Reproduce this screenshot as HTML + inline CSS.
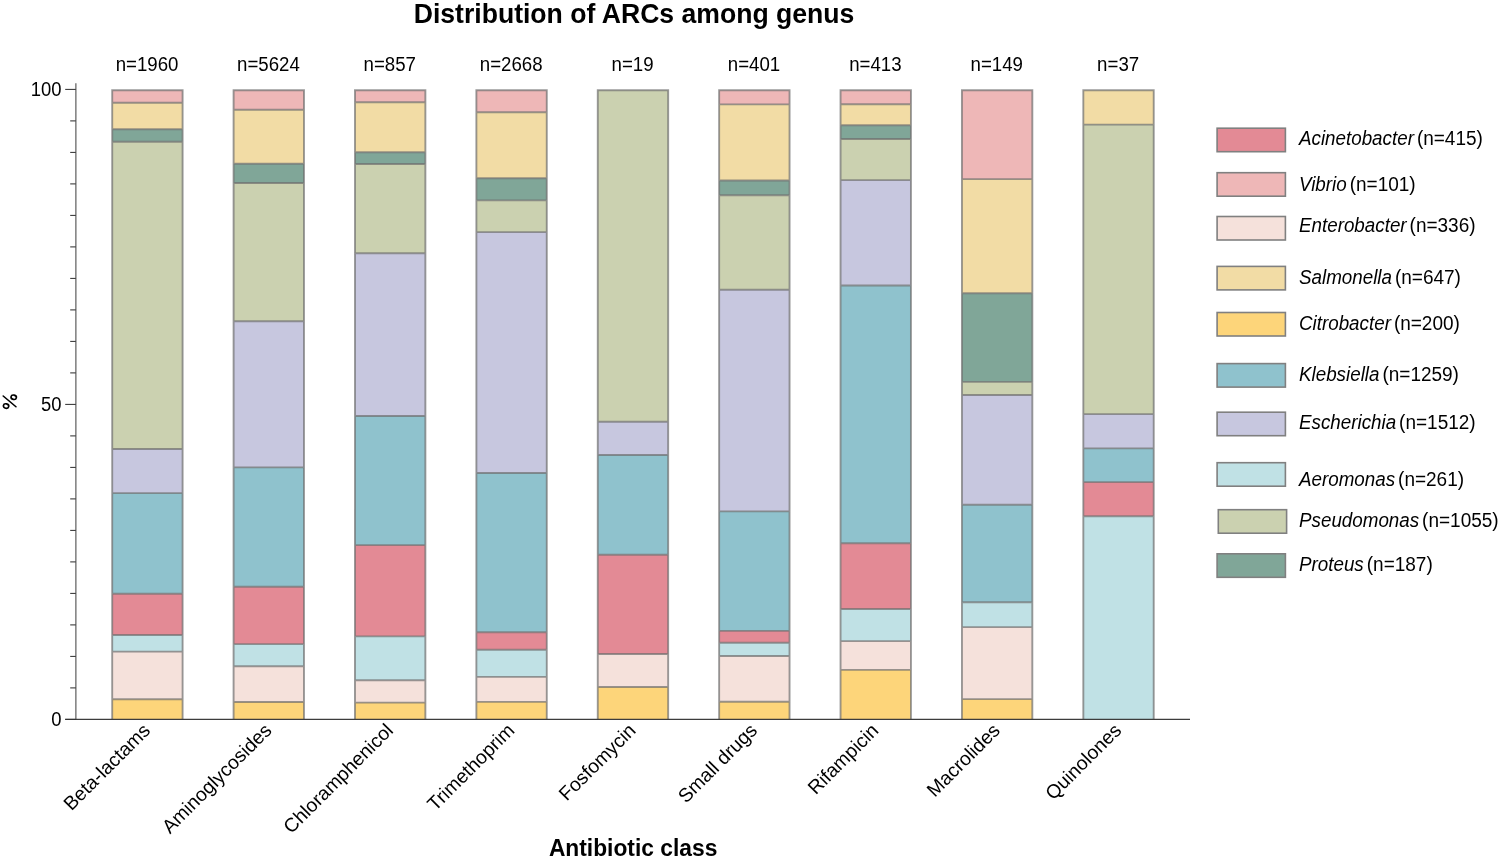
<!DOCTYPE html>
<html><head><meta charset="utf-8"><style>
html,body{margin:0;padding:0;background:#fff;}
svg{display:block;will-change:transform;}
text{font-family:"Liberation Sans",sans-serif;fill:#000;}
</style></head><body>
<svg width="1500" height="865" viewBox="0 0 1500 865">

<text transform="translate(634,23.0) scale(1,1.07)" font-size="26.6" font-weight="bold" text-anchor="middle">Distribution of ARCs among genus</text>
<defs><clipPath id="cb"><rect x="0" y="0" width="1500" height="719.4"/></clipPath></defs>
<g clip-path="url(#cb)">
<rect x="112.20" y="90.20" width="70.4" height="12.60" fill="#EEB7B7"/>
<rect x="112.20" y="102.80" width="70.4" height="26.40" fill="#F2DCA5"/>
<rect x="112.20" y="129.20" width="70.4" height="12.60" fill="#80A698"/>
<rect x="112.20" y="141.80" width="70.4" height="307.20" fill="#CBD1B0"/>
<rect x="112.20" y="449.00" width="70.4" height="44.10" fill="#C7C7DF"/>
<rect x="112.20" y="493.10" width="70.4" height="100.60" fill="#8FC2CD"/>
<rect x="112.20" y="593.70" width="70.4" height="41.30" fill="#E38A95"/>
<rect x="112.20" y="635.00" width="70.4" height="16.60" fill="#C0E1E5"/>
<rect x="112.20" y="651.60" width="70.4" height="47.60" fill="#F5E1DB"/>
<rect x="112.20" y="699.20" width="70.4" height="20.20" fill="#FDD57A"/>
<path d="M112.20 721.4 V90.20 H182.60 V721.4 M112.20 102.80 H182.60 M112.20 129.20 H182.60 M112.20 141.80 H182.60 M112.20 449.00 H182.60 M112.20 493.10 H182.60 M112.20 593.70 H182.60 M112.20 635.00 H182.60 M112.20 651.60 H182.60 M112.20 699.20 H182.60" fill="none" stroke="rgba(110,110,110,0.7)" stroke-width="1.9"/>
<rect x="233.59" y="90.20" width="70.4" height="19.60" fill="#EEB7B7"/>
<rect x="233.59" y="109.80" width="70.4" height="53.90" fill="#F2DCA5"/>
<rect x="233.59" y="163.70" width="70.4" height="19.30" fill="#80A698"/>
<rect x="233.59" y="183.00" width="70.4" height="138.20" fill="#CBD1B0"/>
<rect x="233.59" y="321.20" width="70.4" height="146.20" fill="#C7C7DF"/>
<rect x="233.59" y="467.40" width="70.4" height="119.35" fill="#8FC2CD"/>
<rect x="233.59" y="586.75" width="70.4" height="57.35" fill="#E38A95"/>
<rect x="233.59" y="644.10" width="70.4" height="22.10" fill="#C0E1E5"/>
<rect x="233.59" y="666.20" width="70.4" height="35.75" fill="#F5E1DB"/>
<rect x="233.59" y="701.95" width="70.4" height="17.45" fill="#FDD57A"/>
<path d="M233.59 721.4 V90.20 H303.99 V721.4 M233.59 109.80 H303.99 M233.59 163.70 H303.99 M233.59 183.00 H303.99 M233.59 321.20 H303.99 M233.59 467.40 H303.99 M233.59 586.75 H303.99 M233.59 644.10 H303.99 M233.59 666.20 H303.99 M233.59 701.95 H303.99" fill="none" stroke="rgba(110,110,110,0.7)" stroke-width="1.9"/>
<rect x="354.98" y="90.20" width="70.4" height="12.00" fill="#EEB7B7"/>
<rect x="354.98" y="102.20" width="70.4" height="50.10" fill="#F2DCA5"/>
<rect x="354.98" y="152.30" width="70.4" height="11.70" fill="#80A698"/>
<rect x="354.98" y="164.00" width="70.4" height="89.30" fill="#CBD1B0"/>
<rect x="354.98" y="253.30" width="70.4" height="162.70" fill="#C7C7DF"/>
<rect x="354.98" y="416.00" width="70.4" height="129.10" fill="#8FC2CD"/>
<rect x="354.98" y="545.10" width="70.4" height="91.25" fill="#E38A95"/>
<rect x="354.98" y="636.35" width="70.4" height="43.85" fill="#C0E1E5"/>
<rect x="354.98" y="680.20" width="70.4" height="22.40" fill="#F5E1DB"/>
<rect x="354.98" y="702.60" width="70.4" height="16.80" fill="#FDD57A"/>
<path d="M354.98 721.4 V90.20 H425.38 V721.4 M354.98 102.20 H425.38 M354.98 152.30 H425.38 M354.98 164.00 H425.38 M354.98 253.30 H425.38 M354.98 416.00 H425.38 M354.98 545.10 H425.38 M354.98 636.35 H425.38 M354.98 680.20 H425.38 M354.98 702.60 H425.38" fill="none" stroke="rgba(110,110,110,0.7)" stroke-width="1.9"/>
<rect x="476.37" y="90.20" width="70.4" height="22.00" fill="#EEB7B7"/>
<rect x="476.37" y="112.20" width="70.4" height="66.00" fill="#F2DCA5"/>
<rect x="476.37" y="178.20" width="70.4" height="22.20" fill="#80A698"/>
<rect x="476.37" y="200.40" width="70.4" height="31.70" fill="#CBD1B0"/>
<rect x="476.37" y="232.10" width="70.4" height="240.90" fill="#C7C7DF"/>
<rect x="476.37" y="473.00" width="70.4" height="159.25" fill="#8FC2CD"/>
<rect x="476.37" y="632.25" width="70.4" height="17.55" fill="#E38A95"/>
<rect x="476.37" y="649.80" width="70.4" height="27.10" fill="#C0E1E5"/>
<rect x="476.37" y="676.90" width="70.4" height="25.00" fill="#F5E1DB"/>
<rect x="476.37" y="701.90" width="70.4" height="17.50" fill="#FDD57A"/>
<path d="M476.37 721.4 V90.20 H546.77 V721.4 M476.37 112.20 H546.77 M476.37 178.20 H546.77 M476.37 200.40 H546.77 M476.37 232.10 H546.77 M476.37 473.00 H546.77 M476.37 632.25 H546.77 M476.37 649.80 H546.77 M476.37 676.90 H546.77 M476.37 701.90 H546.77" fill="none" stroke="rgba(110,110,110,0.7)" stroke-width="1.9"/>
<rect x="597.76" y="90.20" width="70.4" height="331.60" fill="#CBD1B0"/>
<rect x="597.76" y="421.80" width="70.4" height="33.20" fill="#C7C7DF"/>
<rect x="597.76" y="455.00" width="70.4" height="99.70" fill="#8FC2CD"/>
<rect x="597.76" y="554.70" width="70.4" height="99.30" fill="#E38A95"/>
<rect x="597.76" y="654.00" width="70.4" height="33.00" fill="#F5E1DB"/>
<rect x="597.76" y="687.00" width="70.4" height="32.40" fill="#FDD57A"/>
<path d="M597.76 721.4 V90.20 H668.16 V721.4 M597.76 421.80 H668.16 M597.76 455.00 H668.16 M597.76 554.70 H668.16 M597.76 654.00 H668.16 M597.76 687.00 H668.16" fill="none" stroke="rgba(110,110,110,0.7)" stroke-width="1.9"/>
<rect x="719.15" y="90.20" width="70.4" height="14.20" fill="#EEB7B7"/>
<rect x="719.15" y="104.40" width="70.4" height="76.10" fill="#F2DCA5"/>
<rect x="719.15" y="180.50" width="70.4" height="14.80" fill="#80A698"/>
<rect x="719.15" y="195.30" width="70.4" height="94.50" fill="#CBD1B0"/>
<rect x="719.15" y="289.80" width="70.4" height="221.60" fill="#C7C7DF"/>
<rect x="719.15" y="511.40" width="70.4" height="119.50" fill="#8FC2CD"/>
<rect x="719.15" y="630.90" width="70.4" height="11.90" fill="#E38A95"/>
<rect x="719.15" y="642.80" width="70.4" height="13.20" fill="#C0E1E5"/>
<rect x="719.15" y="656.00" width="70.4" height="45.75" fill="#F5E1DB"/>
<rect x="719.15" y="701.75" width="70.4" height="17.65" fill="#FDD57A"/>
<path d="M719.15 721.4 V90.20 H789.55 V721.4 M719.15 104.40 H789.55 M719.15 180.50 H789.55 M719.15 195.30 H789.55 M719.15 289.80 H789.55 M719.15 511.40 H789.55 M719.15 630.90 H789.55 M719.15 642.80 H789.55 M719.15 656.00 H789.55 M719.15 701.75 H789.55" fill="none" stroke="rgba(110,110,110,0.7)" stroke-width="1.9"/>
<rect x="840.54" y="90.20" width="70.4" height="14.00" fill="#EEB7B7"/>
<rect x="840.54" y="104.20" width="70.4" height="21.10" fill="#F2DCA5"/>
<rect x="840.54" y="125.30" width="70.4" height="13.70" fill="#80A698"/>
<rect x="840.54" y="139.00" width="70.4" height="41.10" fill="#CBD1B0"/>
<rect x="840.54" y="180.10" width="70.4" height="105.40" fill="#C7C7DF"/>
<rect x="840.54" y="285.50" width="70.4" height="257.80" fill="#8FC2CD"/>
<rect x="840.54" y="543.30" width="70.4" height="65.70" fill="#E38A95"/>
<rect x="840.54" y="609.00" width="70.4" height="32.10" fill="#C0E1E5"/>
<rect x="840.54" y="641.10" width="70.4" height="28.80" fill="#F5E1DB"/>
<rect x="840.54" y="669.90" width="70.4" height="49.50" fill="#FDD57A"/>
<path d="M840.54 721.4 V90.20 H910.94 V721.4 M840.54 104.20 H910.94 M840.54 125.30 H910.94 M840.54 139.00 H910.94 M840.54 180.10 H910.94 M840.54 285.50 H910.94 M840.54 543.30 H910.94 M840.54 609.00 H910.94 M840.54 641.10 H910.94 M840.54 669.90 H910.94" fill="none" stroke="rgba(110,110,110,0.7)" stroke-width="1.9"/>
<rect x="961.93" y="90.20" width="70.4" height="88.90" fill="#EEB7B7"/>
<rect x="961.93" y="179.10" width="70.4" height="114.20" fill="#F2DCA5"/>
<rect x="961.93" y="293.30" width="70.4" height="88.60" fill="#80A698"/>
<rect x="961.93" y="381.90" width="70.4" height="13.10" fill="#CBD1B0"/>
<rect x="961.93" y="395.00" width="70.4" height="109.80" fill="#C7C7DF"/>
<rect x="961.93" y="504.80" width="70.4" height="97.40" fill="#8FC2CD"/>
<rect x="961.93" y="602.20" width="70.4" height="24.90" fill="#C0E1E5"/>
<rect x="961.93" y="627.10" width="70.4" height="72.00" fill="#F5E1DB"/>
<rect x="961.93" y="699.10" width="70.4" height="20.30" fill="#FDD57A"/>
<path d="M961.93 721.4 V90.20 H1032.33 V721.4 M961.93 179.10 H1032.33 M961.93 293.30 H1032.33 M961.93 381.90 H1032.33 M961.93 395.00 H1032.33 M961.93 504.80 H1032.33 M961.93 602.20 H1032.33 M961.93 627.10 H1032.33 M961.93 699.10 H1032.33" fill="none" stroke="rgba(110,110,110,0.7)" stroke-width="1.9"/>
<rect x="1083.32" y="90.20" width="70.4" height="34.40" fill="#F2DCA5"/>
<rect x="1083.32" y="124.60" width="70.4" height="289.50" fill="#CBD1B0"/>
<rect x="1083.32" y="414.10" width="70.4" height="34.30" fill="#C7C7DF"/>
<rect x="1083.32" y="448.40" width="70.4" height="33.70" fill="#8FC2CD"/>
<rect x="1083.32" y="482.10" width="70.4" height="34.10" fill="#E38A95"/>
<rect x="1083.32" y="516.20" width="70.4" height="203.20" fill="#C0E1E5"/>
<path d="M1083.32 721.4 V90.20 H1153.72 V721.4 M1083.32 124.60 H1153.72 M1083.32 414.10 H1153.72 M1083.32 448.40 H1153.72 M1083.32 482.10 H1153.72 M1083.32 516.20 H1153.72" fill="none" stroke="rgba(110,110,110,0.7)" stroke-width="1.9"/>
</g>
<text transform="translate(147.00,70.9) scale(0.972,1.09)" font-size="19.2" text-anchor="middle">n=1960</text>
<text transform="translate(151.40,731.6) rotate(-45)" font-size="19.4" text-anchor="end">Beta-lactams</text>
<text transform="translate(268.39,70.9) scale(0.972,1.09)" font-size="19.2" text-anchor="middle">n=5624</text>
<text transform="translate(272.79,731.6) rotate(-45)" font-size="19.4" text-anchor="end">Aminoglycosides</text>
<text transform="translate(389.78,70.9) scale(0.972,1.09)" font-size="19.2" text-anchor="middle">n=857</text>
<text transform="translate(394.18,731.6) rotate(-45)" font-size="19.4" text-anchor="end">Chloramphenicol</text>
<text transform="translate(511.17,70.9) scale(0.972,1.09)" font-size="19.2" text-anchor="middle">n=2668</text>
<text transform="translate(515.57,731.6) rotate(-45)" font-size="19.4" text-anchor="end">Trimethoprim</text>
<text transform="translate(632.56,70.9) scale(0.972,1.09)" font-size="19.2" text-anchor="middle">n=19</text>
<text transform="translate(636.96,731.6) rotate(-45)" font-size="19.4" text-anchor="end">Fosfomycin</text>
<text transform="translate(753.95,70.9) scale(0.972,1.09)" font-size="19.2" text-anchor="middle">n=401</text>
<text transform="translate(758.35,731.6) rotate(-45)" font-size="19.4" text-anchor="end">Small drugs</text>
<text transform="translate(875.34,70.9) scale(0.972,1.09)" font-size="19.2" text-anchor="middle">n=413</text>
<text transform="translate(879.74,731.6) rotate(-45)" font-size="19.4" text-anchor="end">Rifampicin</text>
<text transform="translate(996.73,70.9) scale(0.972,1.09)" font-size="19.2" text-anchor="middle">n=149</text>
<text transform="translate(1001.13,731.6) rotate(-45)" font-size="19.4" text-anchor="end">Macrolides</text>
<text transform="translate(1118.12,70.9) scale(0.972,1.09)" font-size="19.2" text-anchor="middle">n=37</text>
<text transform="translate(1122.52,731.6) rotate(-45)" font-size="19.4" text-anchor="end">Quinolones</text>
<line x1="75.85" y1="83.2" x2="75.85" y2="719.4" stroke="#7d7d7d" stroke-width="1.5"/>
<line x1="65.2" y1="719.4499999999999" x2="1190" y2="719.4499999999999" stroke="#3c3c3c" stroke-width="1.2"/>
<line x1="65.2" y1="719.40" x2="75.8" y2="719.40" stroke="#333" stroke-width="1.05"/>
<text transform="translate(61.4,726.00) scale(0.97,1.09)" font-size="19" text-anchor="end">0</text>
<line x1="70.2" y1="687.90" x2="75.8" y2="687.90" stroke="#333" stroke-width="1.05"/>
<line x1="70.2" y1="656.40" x2="75.8" y2="656.40" stroke="#333" stroke-width="1.05"/>
<line x1="70.2" y1="624.90" x2="75.8" y2="624.90" stroke="#333" stroke-width="1.05"/>
<line x1="70.2" y1="593.40" x2="75.8" y2="593.40" stroke="#333" stroke-width="1.05"/>
<line x1="70.2" y1="561.90" x2="75.8" y2="561.90" stroke="#333" stroke-width="1.05"/>
<line x1="70.2" y1="530.40" x2="75.8" y2="530.40" stroke="#333" stroke-width="1.05"/>
<line x1="70.2" y1="498.90" x2="75.8" y2="498.90" stroke="#333" stroke-width="1.05"/>
<line x1="70.2" y1="467.40" x2="75.8" y2="467.40" stroke="#333" stroke-width="1.05"/>
<line x1="70.2" y1="435.90" x2="75.8" y2="435.90" stroke="#333" stroke-width="1.05"/>
<line x1="65.2" y1="404.40" x2="75.8" y2="404.40" stroke="#333" stroke-width="1.05"/>
<text transform="translate(61.4,411.00) scale(0.97,1.09)" font-size="19" text-anchor="end">50</text>
<line x1="70.2" y1="372.90" x2="75.8" y2="372.90" stroke="#333" stroke-width="1.05"/>
<line x1="70.2" y1="341.40" x2="75.8" y2="341.40" stroke="#333" stroke-width="1.05"/>
<line x1="70.2" y1="309.90" x2="75.8" y2="309.90" stroke="#333" stroke-width="1.05"/>
<line x1="70.2" y1="278.40" x2="75.8" y2="278.40" stroke="#333" stroke-width="1.05"/>
<line x1="70.2" y1="246.90" x2="75.8" y2="246.90" stroke="#333" stroke-width="1.05"/>
<line x1="70.2" y1="215.40" x2="75.8" y2="215.40" stroke="#333" stroke-width="1.05"/>
<line x1="70.2" y1="183.90" x2="75.8" y2="183.90" stroke="#333" stroke-width="1.05"/>
<line x1="70.2" y1="152.40" x2="75.8" y2="152.40" stroke="#333" stroke-width="1.05"/>
<line x1="70.2" y1="120.90" x2="75.8" y2="120.90" stroke="#333" stroke-width="1.05"/>
<line x1="65.2" y1="89.40" x2="75.8" y2="89.40" stroke="#333" stroke-width="1.05"/>
<text transform="translate(61.4,96.00) scale(0.97,1.09)" font-size="19" text-anchor="end">100</text>
<g fill="none" stroke="#000"><line x1="3.2" y1="396.0" x2="15.95" y2="406.75" stroke-width="1.6" stroke-linecap="round"/><ellipse cx="13.7" cy="397.25" rx="2.7" ry="2.2" stroke-width="1.65" transform="rotate(12 13.7 397.25)"/><ellipse cx="6.07" cy="406.05" rx="2.7" ry="2.2" stroke-width="1.65" transform="rotate(12 6.07 406.05)"/></g>
<text transform="translate(633.1,855.8) scale(1,1.06)" font-size="22.8" font-weight="bold" text-anchor="middle">Antibiotic class</text>
<rect x="1217.1" y="128.2" width="68.3" height="23.5" fill="#E38A95" stroke="#808080" stroke-width="1.6"/>
<text transform="translate(1299,145.3) scale(1,1.05)" font-size="19"><tspan font-style="italic" font-size="18.8">Acinetobacter</tspan><tspan dx="-2.3"> (n=415)</tspan></text>
<rect x="1217.1" y="172.7" width="68.3" height="23.5" fill="#EEB7B7" stroke="#808080" stroke-width="1.6"/>
<text transform="translate(1299,191.1) scale(1,1.05)" font-size="19"><tspan font-style="italic" font-size="18.8">Vibrio</tspan><tspan dx="-2.3"> (n=101)</tspan></text>
<rect x="1217.1" y="216.5" width="68.3" height="23.5" fill="#F5E1DB" stroke="#808080" stroke-width="1.6"/>
<text transform="translate(1299,232.4) scale(1,1.05)" font-size="19"><tspan font-style="italic" font-size="18.8">Enterobacter</tspan><tspan dx="-2.3"> (n=336)</tspan></text>
<rect x="1217.1" y="266.4" width="68.3" height="23.5" fill="#F2DCA5" stroke="#808080" stroke-width="1.6"/>
<text transform="translate(1299,284.1) scale(1,1.05)" font-size="19"><tspan font-style="italic" font-size="18.8">Salmonella</tspan><tspan dx="-2.3"> (n=647)</tspan></text>
<rect x="1217.1" y="312.5" width="68.3" height="23.5" fill="#FDD57A" stroke="#808080" stroke-width="1.6"/>
<text transform="translate(1299,330.4) scale(1,1.05)" font-size="19"><tspan font-style="italic" font-size="18.8">Citrobacter</tspan><tspan dx="-2.3"> (n=200)</tspan></text>
<rect x="1217.1" y="363.6" width="68.3" height="23.5" fill="#8FC2CD" stroke="#808080" stroke-width="1.6"/>
<text transform="translate(1299,380.6) scale(1,1.05)" font-size="19"><tspan font-style="italic" font-size="18.8">Klebsiella</tspan><tspan dx="-2.3"> (n=1259)</tspan></text>
<rect x="1217.1" y="412.2" width="68.3" height="23.5" fill="#C7C7DF" stroke="#808080" stroke-width="1.6"/>
<text transform="translate(1299,429.0) scale(1,1.05)" font-size="19"><tspan font-style="italic" font-size="18.8">Escherichia</tspan><tspan dx="-2.3"> (n=1512)</tspan></text>
<rect x="1217.1" y="462.7" width="68.3" height="23.5" fill="#C0E1E5" stroke="#808080" stroke-width="1.6"/>
<text transform="translate(1299,485.9) scale(1,1.05)" font-size="19"><tspan font-style="italic" font-size="18.8">Aeromonas</tspan><tspan dx="-2.3"> (n=261)</tspan></text>
<rect x="1218.3" y="509.7" width="68.3" height="23.5" fill="#CBD1B0" stroke="#808080" stroke-width="1.6"/>
<text transform="translate(1299,527.4) scale(1,1.05)" font-size="19"><tspan font-style="italic" font-size="18.8">Pseudomonas</tspan><tspan dx="-2.3"> (n=1055)</tspan></text>
<rect x="1217.1" y="553.8" width="68.3" height="23.5" fill="#80A698" stroke="#808080" stroke-width="1.6"/>
<text transform="translate(1299,571.3) scale(1,1.05)" font-size="19"><tspan font-style="italic" font-size="18.8">Proteus</tspan><tspan dx="-2.3"> (n=187)</tspan></text>
</svg>
</body></html>
